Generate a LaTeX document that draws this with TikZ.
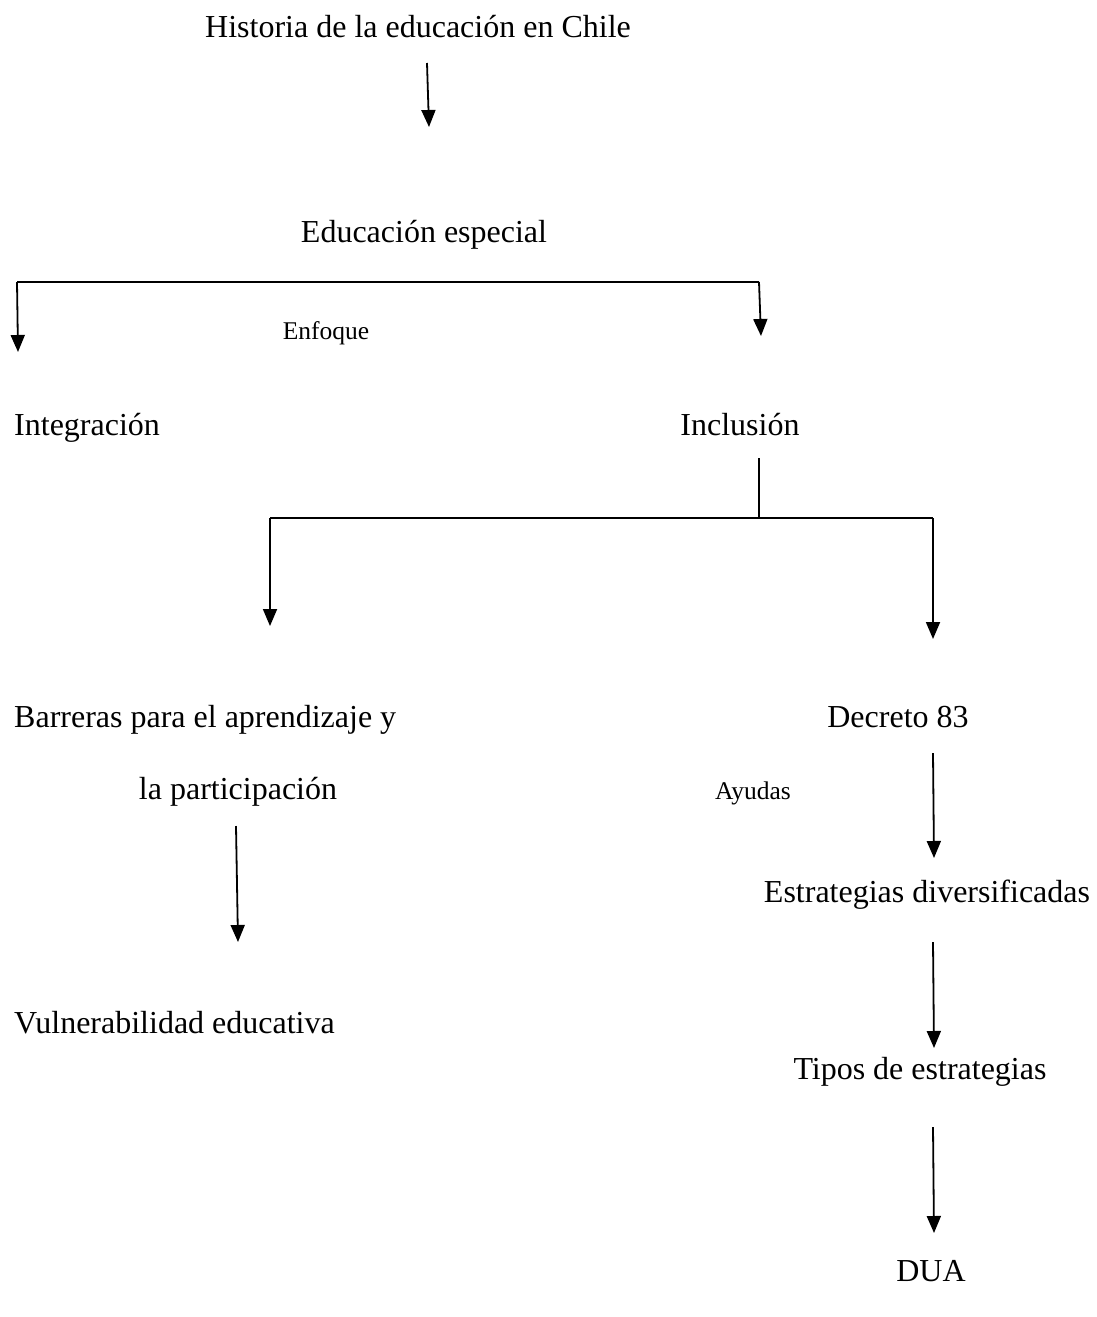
\documentclass[tikz,border=0pt]{standalone}
\usepackage{fontspec}
\setmainfont{Liberation Serif}
\usetikzlibrary{arrows.meta}
\begin{document}
\begin{tikzpicture}[x=1pt,y=-1pt,
  lbl/.style={inner sep=0pt,text height=0.7em,text depth=0.22em,yshift=-8pt,font=\fontsize{32}{36}\selectfont},
  small/.style={inner sep=0pt,text height=0.7em,text depth=0.22em,yshift=-6pt,font=\fontsize{25.5}{30}\selectfont},
  conn/.style={line width=1.8pt,-{Triangle[width=14pt,length=17pt]}},
  plain/.style={line width=1.8pt}]
\useasboundingbox (0,0) rectangle (1096,1317);
% texts
\node[lbl] (hist) at (418,27) {Historia de la educación en Chile};
\node[lbl] (espec) at (424,232) {Educación especial};
\node[small] (enf) at (326,331) {Enfoque};
\node[lbl,anchor=west] (integ) at (14,425) {Integración};
\node[lbl] (incl) at (740,425) {Inclusión};
\node[lbl,anchor=west] (barr) at (14,717) {Barreras para el aprendizaje y};
\node[lbl] (part) at (238,789) {la participación};
\node[lbl,anchor=west] (vuln) at (14,1023) {Vulnerabilidad educativa};
\node[lbl] (decr) at (898,717) {Decreto 83};
\node[small] (ayud) at (753,791) {Ayudas};
\node[lbl] (estr) at (927,892) {Estrategias diversificadas};
\node[lbl] (tipos) at (920,1069) {Tipos de estrategias};
\node[lbl] (dua) at (931,1271) {DUA};
% connector coordinates
\coordinate (h1) at (427,63);  \coordinate (h2) at (429,127);
\coordinate (bl) at (17,282);  \coordinate (bl2) at (18,352);
\coordinate (br) at (759,282); \coordinate (br2) at (761,336);
\coordinate (i1) at (759,458); \coordinate (i2) at (759,518);
\coordinate (jl) at (270,518); \coordinate (jl2) at (270,626);
\coordinate (jr) at (933,518); \coordinate (jr2) at (933,639);
\coordinate (p1) at (236,826); \coordinate (p2) at (238,942);
\coordinate (d1) at (933,753); \coordinate (d2) at (934,858);
\coordinate (e1) at (933,942); \coordinate (e2) at (934,1048);
\coordinate (t1) at (933,1127); \coordinate (t2) at (934,1233);
% connectors
\draw[conn] (h1) -- (h2);
\draw[plain] (bl) -- (br);
\draw[conn] (bl) -- (bl2);
\draw[conn] (br) -- (br2);
\draw[plain] (i1) -- (i2);
\draw[plain] (jl) -- (jr);
\draw[conn] (jl) -- (jl2);
\draw[conn] (jr) -- (jr2);
\draw[conn] (p1) -- (p2);
\draw[conn] (d1) -- (d2);
\draw[conn] (e1) -- (e2);
\draw[conn] (t1) -- (t2);
\end{tikzpicture}
\end{document}
